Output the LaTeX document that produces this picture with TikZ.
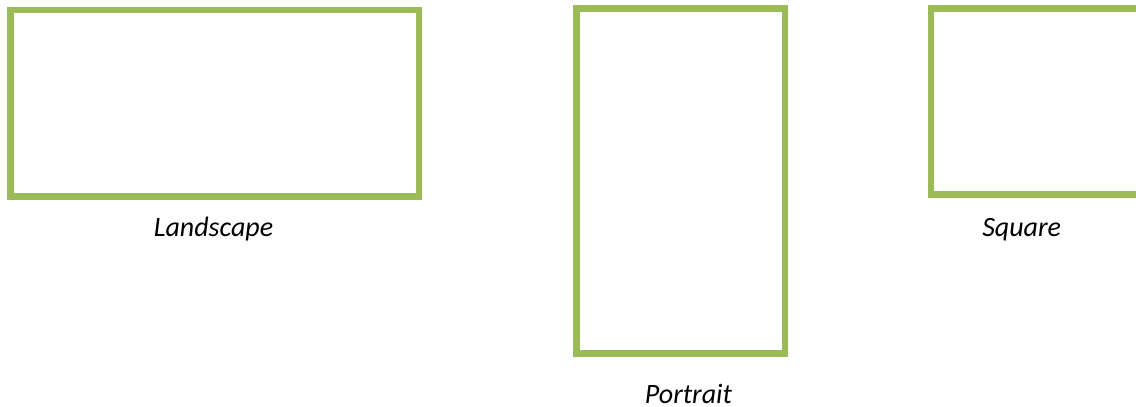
\documentclass[tikz,border=0pt]{standalone}
\usepackage{fontspec}
\setmainfont{Carlito}
\definecolor{olive}{HTML}{9BBB59}
\begin{document}
\begin{tikzpicture}[x=1pt,y=-1pt,
  frame/.style={draw=olive, line width=6.7pt, rectangle, inner sep=0pt, fill=none},
  caption/.style={anchor=base, inner sep=0pt, font=\fontsize{28}{34}\selectfont\itshape}]
\useasboundingbox (0,0) rectangle (1136,407);
\clip (0,0) rectangle (1136,407);
\node[frame, minimum width=408.5pt, minimum height=186.3pt] (landscape) at (214.75,103.2) {};
\node[frame, minimum width=208.3pt, minimum height=345pt] (portrait) at (680.8,181.2) {};
\node[frame, minimum width=210pt, minimum height=186.1pt] (square) at (1036,101.35) {};
\node[caption] (llab) at (213.5,236) {Landscape};
\node[caption] (plab) at (688.5,403) {Portrait};
\node[caption] (slab) at (1021.7,236) {Square};
\end{tikzpicture}
\end{document}
